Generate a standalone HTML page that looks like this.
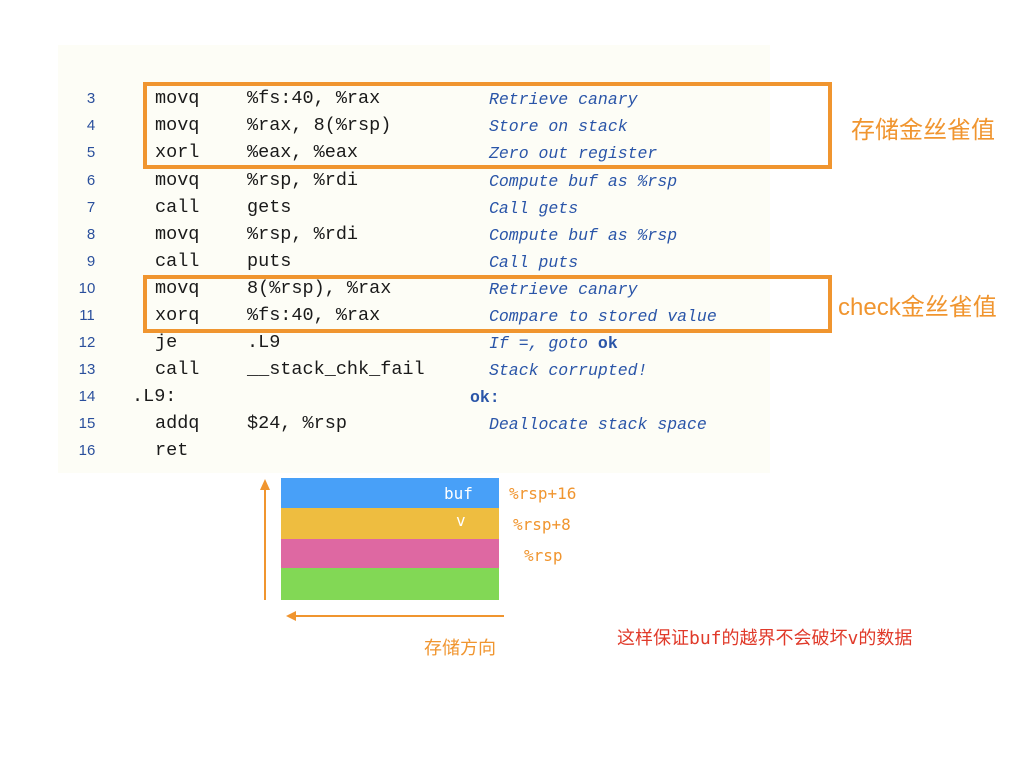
<!DOCTYPE html>
<html><head><meta charset="utf-8"><style>
body{margin:0;width:1024px;height:768px;background:#fff;position:relative;overflow:hidden;font-family:"Liberation Mono",monospace}
.bg{position:absolute;left:58px;top:45px;width:712px;height:428px;background:#fdfdf6}
.r{position:absolute;height:27px;line-height:27px;white-space:pre}
.n{position:absolute;width:30px;text-align:center;color:#2a4f9c;font-family:"Liberation Sans",sans-serif;font-size:15px}
.m{color:#1a1a1a;font-size:18.5px}
.c{color:#2a55a8;font-style:italic;font-size:16.5px}
.box{position:absolute;border:4px solid #f0952f;box-sizing:border-box}
.lab{position:absolute;color:#f0952f;font-family:"Liberation Sans","Noto Sans CJK SC",sans-serif;font-size:24px;white-space:nowrap}
.blk{position:absolute;left:281px;width:218px}
.s{position:absolute;font-size:16px;color:#f0952f;font-family:"DejaVu Sans Mono",monospace}
</style></head><body>
<div class="bg"></div>
<div class="r n" style="left:76px;top:85px">3</div><div class="r m" style="left:155px;top:85px">movq</div><div class="r m" style="left:247px;top:85px">%fs:40, %rax</div><div class="r c" style="left:489px;top:86px">Retrieve canary</div>
<div class="r n" style="left:76px;top:112px">4</div><div class="r m" style="left:155px;top:112px">movq</div><div class="r m" style="left:247px;top:112px">%rax, 8(%rsp)</div><div class="r c" style="left:489px;top:113px">Store on stack</div>
<div class="r n" style="left:76px;top:139px">5</div><div class="r m" style="left:155px;top:139px">xorl</div><div class="r m" style="left:247px;top:139px">%eax, %eax</div><div class="r c" style="left:489px;top:140px">Zero out register</div>
<div class="r n" style="left:76px;top:167px">6</div><div class="r m" style="left:155px;top:167px">movq</div><div class="r m" style="left:247px;top:167px">%rsp, %rdi</div><div class="r c" style="left:489px;top:168px">Compute buf as %rsp</div>
<div class="r n" style="left:76px;top:194px">7</div><div class="r m" style="left:155px;top:194px">call</div><div class="r m" style="left:247px;top:194px">gets</div><div class="r c" style="left:489px;top:195px">Call gets</div>
<div class="r n" style="left:76px;top:221px">8</div><div class="r m" style="left:155px;top:221px">movq</div><div class="r m" style="left:247px;top:221px">%rsp, %rdi</div><div class="r c" style="left:489px;top:222px">Compute buf as %rsp</div>
<div class="r n" style="left:76px;top:248px">9</div><div class="r m" style="left:155px;top:248px">call</div><div class="r m" style="left:247px;top:248px">puts</div><div class="r c" style="left:489px;top:249px">Call puts</div>
<div class="r n" style="left:72px;top:275px">10</div><div class="r m" style="left:155px;top:275px">movq</div><div class="r m" style="left:247px;top:275px">8(%rsp), %rax</div><div class="r c" style="left:489px;top:276px">Retrieve canary</div>
<div class="r n" style="left:72px;top:302px">11</div><div class="r m" style="left:155px;top:302px">xorq</div><div class="r m" style="left:247px;top:302px">%fs:40, %rax</div><div class="r c" style="left:489px;top:303px">Compare to stored value</div>
<div class="r n" style="left:72px;top:329px">12</div><div class="r m" style="left:155px;top:329px">je</div><div class="r m" style="left:247px;top:329px">.L9</div><div class="r c" style="left:489px;top:330px">If =, goto <b style="font-style:normal">ok</b></div>
<div class="r n" style="left:72px;top:356px">13</div><div class="r m" style="left:155px;top:356px">call</div><div class="r m" style="left:247px;top:356px">__stack_chk_fail</div><div class="r c" style="left:489px;top:357px">Stack corrupted!</div>
<div class="r n" style="left:72px;top:383px">14</div><div class="r m" style="left:132px;top:383px">.L9:</div><div class="r c" style="left:470px;top:384px;font-style:normal;font-weight:bold">ok:</div>
<div class="r n" style="left:72px;top:410px">15</div><div class="r m" style="left:155px;top:410px">addq</div><div class="r m" style="left:247px;top:410px">$24, %rsp</div><div class="r c" style="left:489px;top:411px">Deallocate stack space</div>
<div class="r n" style="left:72px;top:437px">16</div><div class="r m" style="left:155px;top:437px">ret</div>

<div class="box" style="left:143px;top:82px;width:689px;height:87px"></div>
<div class="box" style="left:143px;top:275px;width:689px;height:58px"></div>
<div class="lab" style="left:851px;top:110px">存储金丝雀值</div>
<div class="lab" style="left:838px;top:287px">check金丝雀值</div>

<div class="blk" style="top:478px;height:30px;background:#48a0f8"></div>
<div class="blk" style="top:508px;height:31px;background:#eebd40"></div>
<div class="blk" style="top:539px;height:29px;background:#de68a2"></div>
<div class="blk" style="top:568px;height:32px;background:#82d855"></div>
<div class="s" style="left:444px;top:484px;color:#fff">buf</div>
<div class="s" style="left:456px;top:511px;color:#fff">v</div>
<div class="s" style="left:509px;top:484px">%rsp+16</div>
<div class="s" style="left:513px;top:515px">%rsp+8</div>
<div class="s" style="left:524px;top:546px">%rsp</div>
<svg style="position:absolute;left:0;top:0" width="1024" height="768">
<line x1="265" y1="600" x2="265" y2="486" stroke="#f0952f" stroke-width="2"/>
<polygon points="265,479 260,490 270,490" fill="#f0952f"/>
<line x1="504" y1="616" x2="294" y2="616" stroke="#f0952f" stroke-width="2"/>
<polygon points="286,616 296,611 296,621" fill="#f0952f"/>
</svg>
<div class="lab" style="left:424px;top:634px;font-size:18px">存储方向</div>
<div class="lab" style="left:617px;top:624px;font-size:18px;color:#e03a2a;font-family:'DejaVu Sans Mono','Noto Sans CJK SC',monospace">这样保证buf的越界不会破坏v的数据</div>
</body></html>
